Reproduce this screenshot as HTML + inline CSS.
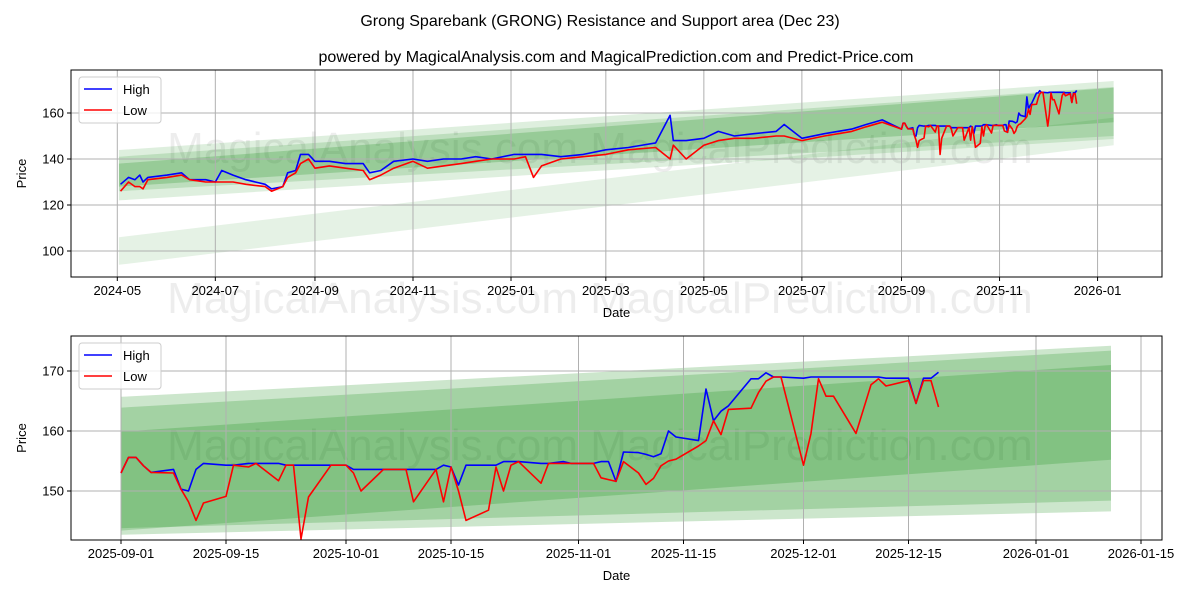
<!DOCTYPE html>
<html><head><meta charset="utf-8"><style>
body{margin:0;background:#fff;}
svg{display:block;font-family:"Liberation Sans","DejaVu Sans",sans-serif;}
</style></head><body>
<svg id="chart" width="1200" height="600" xmlns="http://www.w3.org/2000/svg">
<text x="600" y="26" text-anchor="middle" font-size="16">Grong Sparebank (GRONG) Resistance and Support area (Dec 23)</text>
<text x="616" y="62" text-anchor="middle" font-size="16">powered by MagicalAnalysis.com and MagicalPrediction.com and Predict-Price.com</text>
<g id="top"></g>
<g id="bot"></g>
</svg>
<script>
// ---- Top chart data (2024-05 .. 2025-08) ----
const topDates = ["2024-05-03","2024-05-08","2024-05-12","2024-05-15","2024-05-17","2024-05-20","2024-06-01","2024-06-10","2024-06-15","2024-06-25","2024-07-01","2024-07-05","2024-07-12","2024-07-20","2024-08-01","2024-08-05","2024-08-12","2024-08-15","2024-08-20","2024-08-23","2024-08-28","2024-09-01","2024-09-10","2024-09-20","2024-10-01","2024-10-05","2024-10-12","2024-10-20","2024-11-01","2024-11-10","2024-11-20","2024-12-01","2024-12-10","2024-12-20","2025-01-03","2025-01-10","2025-01-15","2025-01-20","2025-02-01","2025-02-15","2025-03-01","2025-03-15","2025-04-01","2025-04-10","2025-04-12","2025-04-20","2025-05-01","2025-05-10","2025-05-20","2025-06-01","2025-06-15","2025-06-20","2025-07-01","2025-07-15","2025-08-01","2025-08-10","2025-08-20"];
const topHigh = [129,132,131,133,130,132,133,134,131,131,130,135,133,131,129,127,128,134,135,142,142,139,139,138,138,134,135,139,140,139,140,140,141,140,142,142,142,142,141,142,144,145,147,159,148,148,149,152,150,151,152,155,149,151,153,155,157];
const topLow = [126,130,128,128,127,131,132,133,131,130,130,130,130,129,128,126,128,132,134,138,140,136,137,136,135,131,133,136,139,136,137,138,139,140,140,141,132,137,140,141,142,144,145,140,146,140,146,148,149,149,150,150,148,150,152,154,156];
// ---- Bottom chart data (days since 2025-09-01) ----
const botDays = [0,1,2,3,4,7,8,9,10,11,14,15,17,18,21,22,23,24,25,28,30,31,32,35,38,39,42,43,44,45,46,49,50,51,52,53,56,57,59,60,63,64,65,66,67,69,70,71,72,73,74,77,78,79,80,81,84,85,86,87,88,91,92,93,94,95,98,100,101,102,105,106,107,108,109];
const botHigh = [153,155.6,155.6,154.2,153.1,153.6,150.3,150,153.6,154.6,154.3,154.3,154.6,154.6,154.6,154.3,154.3,154.3,154.3,154.3,154.3,153.6,153.6,153.6,153.6,153.6,153.6,154.3,154,151,154.3,154.3,154.3,154.9,154.9,154.9,154.6,154.6,154.9,154.6,154.6,154.9,154.9,151.6,156.5,156.4,156.1,155.7,156.2,160,159,158.4,167,161.7,163.3,164.2,168.7,168.7,169.7,169,169,168.8,169,169,169,169,169,169,169,168.8,168.8,164.6,168.8,168.8,169.8];
const botLow = [153,155.6,155.6,154.2,153.1,153,150.3,148.2,145.1,148,149.1,154.3,154,154.6,151.7,154.3,154.3,142,149,154.3,154.3,153,150,153.6,153.6,148.2,153.6,148.2,154,150,145.1,146.8,154,150,154.3,154.9,151.3,154.6,154.6,154.6,154.6,152.2,151.9,151.6,154.9,153,151.1,152.1,154.2,155,155.3,157.5,158.4,161.7,159.4,163.6,163.8,166.4,168.3,169,169,154.3,159.6,168.7,165.8,165.8,159.6,167.7,168.7,167.5,168.4,164.6,168.4,168.4,164];

const NS="http://www.w3.org/2000/svg";
function mk(parent,tag,attrs){const e=document.createElementNS(NS,tag);for(const k in attrs)e.setAttribute(k,attrs[k]);parent.appendChild(e);return e;}
const DAY=86400000;
function dnum(s){return Date.UTC(+s.slice(0,4),+s.slice(5,7)-1,+s.slice(8,10))/DAY;}
const sep1=dnum("2025-09-01");

function panel(g,cfg){
  const {L,R,T,B,x,y}=cfg;
  // watermark
  const wm=mk(g,'text',{x:600,y:cfg.wmY,'text-anchor':'middle','font-size':44,fill:'#000','fill-opacity':0.07});
  wm.textContent='MagicalAnalysis.com    MagicalPrediction.com';
  
  
  // bands
  cfg.bands.forEach((b,i)=>{
    const p=mk(g,'polygon',{points:`${x(b.d0)},${y(b.t0)} ${x(b.d1)},${y(b.t1)} ${x(b.d1)},${y(b.b1)} ${x(b.d0)},${y(b.b0)}`,fill:'#008000','fill-opacity':b.o});
    
    
  });
  // grid
  cfg.xticks.forEach((t,i)=>{
    const xx=x(t.d);
    const gl=mk(g,'line',{x1:xx,x2:xx,y1:T,y2:B,stroke:'#b0b0b0','stroke-width':1});
    
    
    mk(g,'line',{x1:xx,x2:xx,y1:B,y2:B+4,stroke:'#000'});
    const tx=mk(g,'text',{x:xx,y:B+18,'text-anchor':'middle','font-size':13});
    tx.textContent=t.l;
    
    
  });
  cfg.yticks.forEach(v=>{
    const yy=y(v);
    const gl=mk(g,'line',{x1:L,x2:R,y1:yy,y2:yy,stroke:'#b0b0b0','stroke-width':1});
    
    
    mk(g,'line',{x1:L-4,x2:L,y1:yy,y2:yy,stroke:'#000'});
    const tx=mk(g,'text',{x:L-7,y:yy+4.5,'text-anchor':'end','font-size':13});
    tx.textContent=v;
    
    
  });
  // series
  const hi=mk(g,'polyline',{points:cfg.days.map((d,i)=>x(d)+','+y(cfg.hi[i])).join(' '),fill:'none',stroke:'#0000ff','stroke-width':1.6,'stroke-linejoin':'round'});
  
  
  const lo=mk(g,'polyline',{points:cfg.days.map((d,i)=>x(d)+','+y(cfg.lo[i])).join(' '),fill:'none',stroke:'#ff0000','stroke-width':1.6,'stroke-linejoin':'round'});
  
  
  // frame
  const fr=mk(g,'rect',{x:L,y:T,width:R-L,height:B-T,fill:'none',stroke:'#000','stroke-width':1});
  
  
  const xl=mk(g,'text',{x:(L+R)/2,y:B+40,'text-anchor':'middle','font-size':13});
  xl.textContent='Date';
  
  
  const yl=mk(g,'text',{x:0,y:0,'text-anchor':'middle','font-size':13,transform:`translate(26,${(T+B)/2}) rotate(-90)`});
  yl.textContent='Price';
  
  
  // legend
  const lg=mk(g,'g',{});
  
  
  mk(lg,'rect',{x:L+8,y:T+7,width:82,height:46,rx:3,fill:'#fff','fill-opacity':0.8,stroke:'#ccc'});
  mk(lg,'line',{x1:L+13,x2:L+41,y1:T+19,y2:T+19,stroke:'#0000ff','stroke-width':1.6});
  mk(lg,'line',{x1:L+13,x2:L+41,y1:T+40,y2:T+40,stroke:'#ff0000','stroke-width':1.6});
  const t1=mk(lg,'text',{x:L+52,y:T+24,'font-size':13});t1.textContent='High';
  
  
  const t2=mk(lg,'text',{x:L+52,y:T+45,'font-size':13});t2.textContent='Low';
  
  
}

// Top chart
const may1=dnum("2024-05-01");
const tx=d=>117.3+1.607*(d-may1);
const ty=v=>113+(160-v)*2.3;
const topAllDays=topDates.map(dnum).concat(botDays.map(d=>sep1+d));
const s0=dnum("2024-05-02"), s1=dnum("2026-01-11");
panel(document.getElementById('top'),{L:71,R:1162,T:70,B:277,x:tx,y:ty,wmY:163,
  days:topAllDays,hi:topHigh.concat(botHigh),lo:topLow.concat(botLow),
  yticks:[100,120,140,160],
  xticks:["2024-05","2024-07","2024-09","2024-11","2025-01","2025-03","2025-05","2025-07","2025-09","2025-11","2026-01"].map(l=>({d:dnum(l+"-01"),l})),
  bands:[{d0:s0,d1:s1,t0:143.9,t1:173.9,b0:122,b1:148.7,o:0.13},
         {d0:s0,d1:s1,t0:141,t1:171.3,b0:126,b1:150,o:0.15},
         {d0:s0,d1:s1,t0:138,t1:171,b0:128,b1:156,o:0.2},
         {d0:s0,d1:s1,t0:106,t1:158,b0:94,b1:146,o:0.1}]
});
// Bottom chart
const bx=d=>121+7.5*d;
const by=v=>371+(170-v)*6;
panel(document.getElementById('bot'),{L:71,R:1162,T:336,B:540,x:bx,y:by,wmY:460,
  days:botDays,hi:botHigh,lo:botLow,
  yticks:[150,160,170],
  xticks:["2025-09-01","2025-09-15","2025-10-01","2025-10-15","2025-11-01","2025-11-15","2025-12-01","2025-12-15","2026-01-01","2026-01-15"].map(l=>({d:dnum(l)-sep1,l})),
  bands:[{d0:0,d1:132,t0:165.7,t1:174.2,b0:142.7,b1:146.6,o:0.2},
         {d0:0,d1:132,t0:163.9,t1:173.4,b0:143.8,b1:148.4,o:0.2},
         {d0:0,d1:132,t0:159.9,t1:171,b0:143.4,b1:155.2,o:0.2}]
});
// middle watermark
const mw=mk(document.getElementById('chart'),'text',{x:600,y:313,'text-anchor':'middle','font-size':44,fill:'#000','fill-opacity':0.07});
mw.textContent='MagicalAnalysis.com    MagicalPrediction.com';


</script>
</body></html>
